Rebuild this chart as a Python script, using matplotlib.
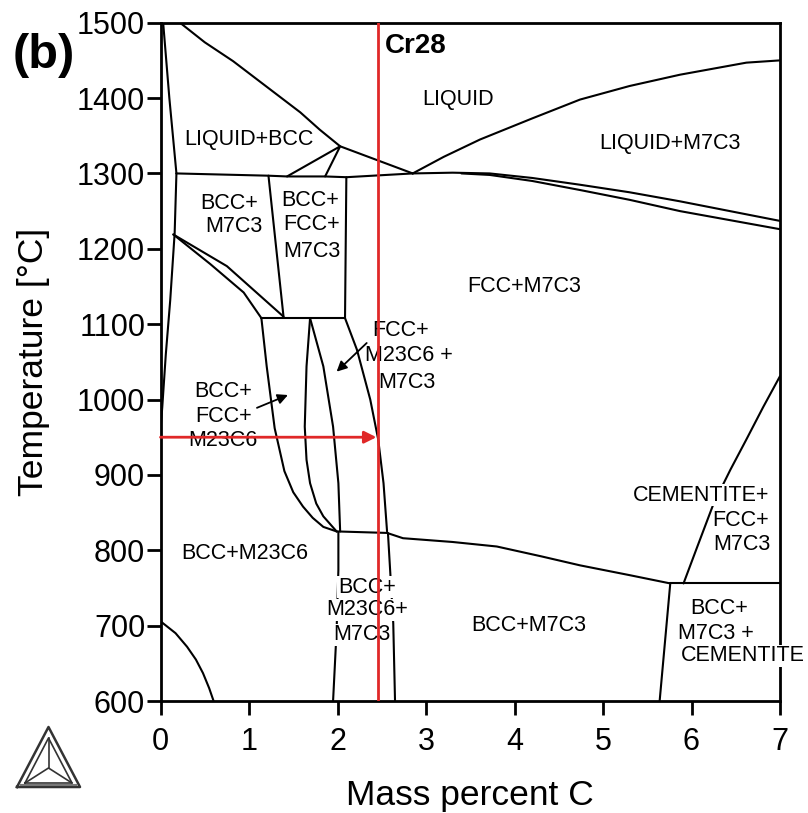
import matplotlib.pyplot as plt

plt.rcParams['font.family'] = ['Liberation Sans', 'DejaVu Sans']

# phase boundaries: mass percent C / temperature in deg C
liq_bcc_x = [0.22, 0.50, 0.82, 1.20, 1.58, 1.80, 2.03, 2.44, 2.85]
liq_bcc_t = [1500, 1474, 1449, 1415, 1381, 1358, 1336, 1318, 1300]
liq_m7c3_x = [2.85, 3.20, 3.61, 4.20, 4.74, 5.30, 5.87, 6.62, 7.0]
liq_m7c3_t = [1300, 1322, 1345, 1373, 1398, 1416, 1431, 1447, 1450]
sol_upper_x = [2.85, 3.30, 3.72, 4.20, 4.74, 5.30, 5.87, 7.0]
sol_upper_t = [1300, 1301, 1300, 1294, 1285, 1275, 1263, 1237]
sol_lower_x = [3.40, 3.72, 4.20, 4.74, 5.30, 5.87, 7.0]
sol_lower_t = [1300, 1298, 1290, 1278, 1265, 1250, 1226]
eut_x = [0.18, 1.22, 1.43, 1.86, 2.10, 2.85]
eut_t = [1300, 1297, 1296, 1296, 1295, 1300]
bcc_sol_x = [0.03, 0.10, 0.18]
bcc_sol_t = [1500, 1400, 1300]
bcc_solvus_x = [0.18, 0.16, 0.11, 0.06, 0.02, 0.0]
bcc_solvus_t = [1300, 1221, 1132, 1060, 990, 960]
peri_x = [1.43, 2.03, 1.86]
peri_t = [1296, 1336, 1296]
bm_right_x = [1.22, 1.39]
bm_right_t = [1297, 1110]
box_right_x = [2.10, 2.085]
box_right_t = [1295, 1108]
box_bottom_x = [1.14, 2.085]
box_bottom_t = [1108, 1108]
wedge_up_x = [0.145, 0.75, 1.39]
wedge_up_t = [1219, 1177, 1110]
wedge_lo_x = [0.145, 0.56, 0.94, 1.14]
wedge_lo_t = [1219, 1180, 1142, 1108]
line_a_x = [1.14, 1.20, 1.29, 1.40, 1.50, 1.61, 1.72, 1.84, 1.99]
line_a_t = [1108, 1044, 962, 905, 877, 858, 843, 831, 825]
line_b_x = [1.69, 1.65, 1.63, 1.65, 1.69, 1.76, 1.84, 1.99]
line_b_t = [1108, 1044, 964, 920, 889, 862, 845, 825]
line_c_x = [1.69, 1.84, 1.95, 2.01, 2.03]
line_c_t = [1108, 1044, 964, 889, 825]
line_d_x = [2.085, 2.22, 2.37, 2.46, 2.52, 2.56]
line_d_t = [1108, 1066, 1000, 947, 889, 825]
eutectoid_x = [1.99, 2.56, 2.74, 3.30, 3.80, 4.30, 4.74, 5.30, 5.76]
eutectoid_t = [825, 823, 816, 811, 805, 792, 780, 767, 756]
cem_flat_x = [5.76, 7.0]
cem_flat_t = [756, 756]
low_left_x = [2.01, 2.01, 1.99, 1.95]
low_left_t = [824, 774, 694, 600]
low_right_x = [2.57, 2.63, 2.65]
low_right_t = [823, 703, 600]
cem_low_x = [5.76, 5.64]
cem_low_t = [756, 600]
cem_up_x = [5.91, 6.06, 6.25, 6.44, 6.62, 6.81, 7.0]
cem_up_t = [756, 803, 862, 907, 947, 990, 1031]
ferrite_x = [0.0, 0.03, 0.17, 0.30, 0.40, 0.48, 0.55, 0.60]
ferrite_t = [706, 703, 690, 672, 655, 637, 617, 600]

boundaries = [
    (liq_bcc_x, liq_bcc_t), (liq_m7c3_x, liq_m7c3_t),
    (sol_upper_x, sol_upper_t), (sol_lower_x, sol_lower_t),
    (eut_x, eut_t), (bcc_sol_x, bcc_sol_t), (bcc_solvus_x, bcc_solvus_t),
    (peri_x, peri_t), (bm_right_x, bm_right_t), (box_right_x, box_right_t),
    (box_bottom_x, box_bottom_t), (wedge_up_x, wedge_up_t),
    (wedge_lo_x, wedge_lo_t), (line_a_x, line_a_t), (line_b_x, line_b_t),
    (line_c_x, line_c_t), (line_d_x, line_d_t), (eutectoid_x, eutectoid_t),
    (cem_flat_x, cem_flat_t), (low_left_x, low_left_t),
    (low_right_x, low_right_t), (cem_low_x, cem_low_t),
    (cem_up_x, cem_up_t), (ferrite_x, ferrite_t),
]

# alloy section and working temperature
cr28_c = 2.46
anneal_t = 950

fig = plt.figure(figsize=(8.08, 8.13), dpi=100)
ax = fig.add_axes([160.5 / 808, 1 - 701 / 813, 619.5 / 808, 678.3 / 813])

for bx, bt in boundaries:
    ax.plot(bx, bt, color='black', lw=1.5, zorder=2,
            solid_joinstyle='round', solid_capstyle='round')

red = '#e02828'
ax.plot([cr28_c, cr28_c], [600, 1500], color=red, lw=2.0, zorder=5)
ax.annotate('', xy=(cr28_c - 0.02, anneal_t), xytext=(0, anneal_t),
            arrowprops=dict(arrowstyle='-|>', color=red, lw=2.0,
                            mutation_scale=18, shrinkA=0, shrinkB=0),
            zorder=5)

# pointers into the narrow three-phase fields
ax.annotate('', xy=(1.44, 1006), xytext=(1.09, 989),
            arrowprops=dict(arrowstyle='-|>', color='black', lw=1.3,
                            mutation_scale=15, shrinkA=0, shrinkB=0))
ax.annotate('', xy=(1.99, 1037), xytext=(2.33, 1075),
            arrowprops=dict(arrowstyle='-|>', color='black', lw=1.3,
                            mutation_scale=15, shrinkA=0, shrinkB=0))

fs = 15.5
white = dict(facecolor='white', edgecolor='none', pad=0.5)


def lab(s, x, t, ha='center', bg=False):
    ax.text(x, t, s, fontsize=fs, ha=ha, va='center', zorder=4,
            bbox=white if bg else None)


lab('LIQUID', 3.36, 1398)
lab('LIQUID+M7C3', 5.76, 1340)
lab('LIQUID+BCC', 1.0, 1345)
lab('BCC+', 0.77, 1260)
lab('M7C3', 0.83, 1229)
lab('BCC+', 1.69, 1264)
lab('FCC+', 1.71, 1232)
lab('M7C3', 1.71, 1197)
lab('FCC+M7C3', 4.11, 1150)
lab('FCC+', 2.71, 1091)
lab('M23C6 +', 2.81, 1058)
lab('M7C3', 2.78, 1022)
lab('BCC+', 0.71, 1010)
lab('FCC+', 0.71, 977)
lab('M23C6', 0.71, 945)
lab('BCC+M23C6', 0.955, 796)
lab('BCC+', 2.33, 751, bg=True)
lab('M23C6+', 2.34, 721, bg=True)
lab('M7C3', 2.28, 688, bg=True)
lab('BCC+M7C3', 4.16, 700)
lab('CEMENTITE+', 6.88, 873, ha='right', bg=True)
lab('FCC+', 6.87, 839, ha='right')
lab('M7C3', 6.89, 807, ha='right')
lab('BCC+', 6.31, 723)
lab('M7C3 +', 6.28, 690)
lab('CEMENTITE', 6.58, 660, bg=True)

ax.text(2.54, 1460, 'Cr28', fontsize=20, fontweight='bold', va='baseline')
fig.text(13 / 808, 1 - 68 / 813, '(b)', fontsize=35, fontweight='bold',
         va='baseline', ha='left')

ax.set_xlim(0, 7)
ax.set_ylim(600, 1500)
ax.set_xticks(range(0, 8))
ax.set_yticks(range(600, 1501, 100))
ax.tick_params(direction='out', length=10, width=2, labelsize=22)
ax.tick_params(axis='x', pad=9)
ax.tick_params(axis='y', pad=1)
for sp in ax.spines.values():
    sp.set_linewidth(2.0)
    sp.set_zorder(3)

ax.set_xlabel('Mass percent C', fontsize=25.5)
ax.xaxis.set_label_coords(0.5, -0.115)
ax.set_ylabel('Temperature [°C]', fontsize=25.5)
ax.yaxis.set_label_coords(-0.1776, 0.5)

# small triangle logo in the lower left corner
logo = fig.add_axes([14 / 808, 1 - 790 / 813, 70 / 808, 66 / 813])
logo.set_xlim(14, 84)
logo.set_ylim(790, 724)
logo.axis('off')
logo.plot([17, 80, 48.5, 17], [787, 787, 727, 787], color='#333333', lw=1.8)
logo.plot([25, 72, 48.5, 25], [783, 783, 738, 783], color='#333333', lw=1.2)
logo.plot([48.5, 48.5], [738, 768], color='#333333', lw=1.2)
logo.plot([25, 48.5, 72], [783, 768, 783], color='#333333', lw=1.2)
logo.plot([21, 76], [785, 785], color='#777777', lw=1.5)

fig.savefig('out.png', dpi=100)
